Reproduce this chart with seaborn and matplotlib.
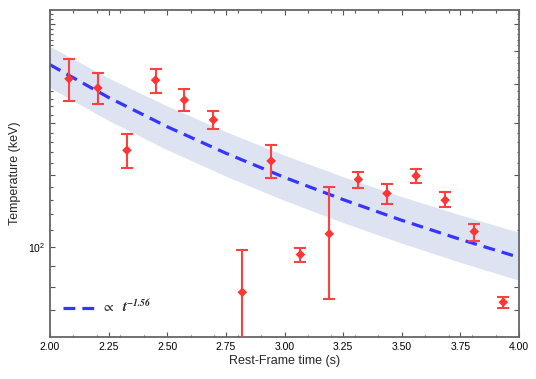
import numpy as np
import matplotlib
matplotlib.use("Agg")
import matplotlib.pyplot as plt
from matplotlib.ticker import NullFormatter
import pandas as pd
import seaborn as sns

# measured points (rest-frame time in s, temperature in keV)
time_s = [2.081, 2.204, 2.328, 2.450, 2.573, 2.697, 2.820, 2.943,
          3.068, 3.191, 3.315, 3.437, 3.561, 3.685, 3.809, 3.933]
temp_kev = [257, 244, 172, 255, 228, 204, 77.5, 162,
            95.8, 107.6, 146, 135, 149, 130, 109, 73.3]
temp_hi = [287, 266, 188, 272, 242, 214, 98, 177,
           99.3, 140, 152, 142, 155, 136, 114, 75.4]
temp_lo = [227, 223, 156, 237.5, 215, 194, 48, 147,
           92.1, 74.7, 139, 127, 143, 125, 103.4, 70.9]

# fitted decay curve and its uncertainty band
fit_t = [2.0, 2.25, 2.5, 2.75, 3.0, 3.25, 3.5, 3.75, 4.0]
fit_temp = [278, 231.3, 196.3, 169.2, 147.7, 130.4, 116.1, 104.3, 94.3]
band_hi = [308, 258, 220.6, 190.9, 167.3, 148.3, 132.6, 119.6, 108.5]
band_lo = [244.4, 203.3, 172.5, 148.7, 129.8, 114.6, 102.1, 91.7, 82.9]
fit_label = r"$\propto$  $\mathbfit{t}^{\mathbfit{-1.56}}$"

x_major = [2.00, 2.25, 2.50, 2.75, 3.00, 3.25, 3.50, 3.75, 4.00]
y_major = [70, 80, 90, 100, 150, 200, 250, 300, 350]
y_labels = ["", "", "", r"$\mathregular{10^2}$", "", "", "", "", ""]

sns.set_theme(style="ticks")
plt.rcParams['font.family'] = ['Liberation Sans', 'DejaVu Sans']

pts = pd.DataFrame({"t": time_s, "T": temp_kev})
fit = pd.DataFrame({"t": fit_t, "T": fit_temp})

fig = plt.figure(figsize=(5.36, 3.79), dpi=100)
ax = fig.add_axes([0.0933, 0.1108, 0.8750, 0.8628])

ax.fill_between(fit_t, band_lo, band_hi, color="#dde3f0", lw=0, zorder=1)
sns.lineplot(data=fit, x="t", y="T", ax=ax, color="#3535ff", lw=2.3,
             dashes=False, label=fit_label, zorder=2)
ax.lines[-1].set_dashes([3.7, 2.2])

yerr = [np.array(temp_kev) - np.array(temp_lo), np.array(temp_hi) - np.array(temp_kev)]
ax.errorbar(time_s, temp_kev, yerr=yerr, fmt="none", ecolor="#ff4040",
            elinewidth=1.5, capsize=4, capthick=1.5, zorder=3)
sns.scatterplot(data=pts, x="t", y="T", ax=ax, marker="D", s=24,
                color="#ff3535", edgecolor="none", zorder=4)

ax.set_yscale("log")
ax.set_xlim(2.0, 4.0)
ax.set_ylim(60.3, 378)
ax.set_xticks(x_major)
ax.set_xticklabels([f"{v:.2f}" for v in x_major])
ax.set_xticks(np.arange(2.1, 4.0, 0.1), minor=True)
ax.set_yticks(y_major)
ax.set_yticklabels(y_labels)
ax.set_yticks([v for v in range(110, 380, 10) if v not in y_major], minor=True)
ax.yaxis.set_minor_formatter(NullFormatter())
ax.xaxis.set_minor_formatter(NullFormatter())

ax.tick_params(which="both", direction="in", top=True, right=True,
               colors="#555555", labelcolor="black", labelsize=7.5, width=0.8)
ax.tick_params(which="major", length=3.5)
ax.tick_params(which="minor", length=1.8)
for s in ax.spines.values():
    s.set_color("#666666")
    s.set_linewidth(1.3)

ax.set_xlabel("Rest-Frame time (s)", fontsize=9, labelpad=2)
ax.set_ylabel("Temperature (keV)", fontsize=9, labelpad=5)

leg = ax.legend(loc="lower left", frameon=False, fontsize=9, handlelength=2.6,
                handletextpad=0.4, borderaxespad=0.3, bbox_to_anchor=(0.01, 0.04))
for txt in leg.get_texts():
    txt.set_math_fontfamily("stix")
    txt.set_fontsize(10)

fig.savefig("out.png", dpi=100)
